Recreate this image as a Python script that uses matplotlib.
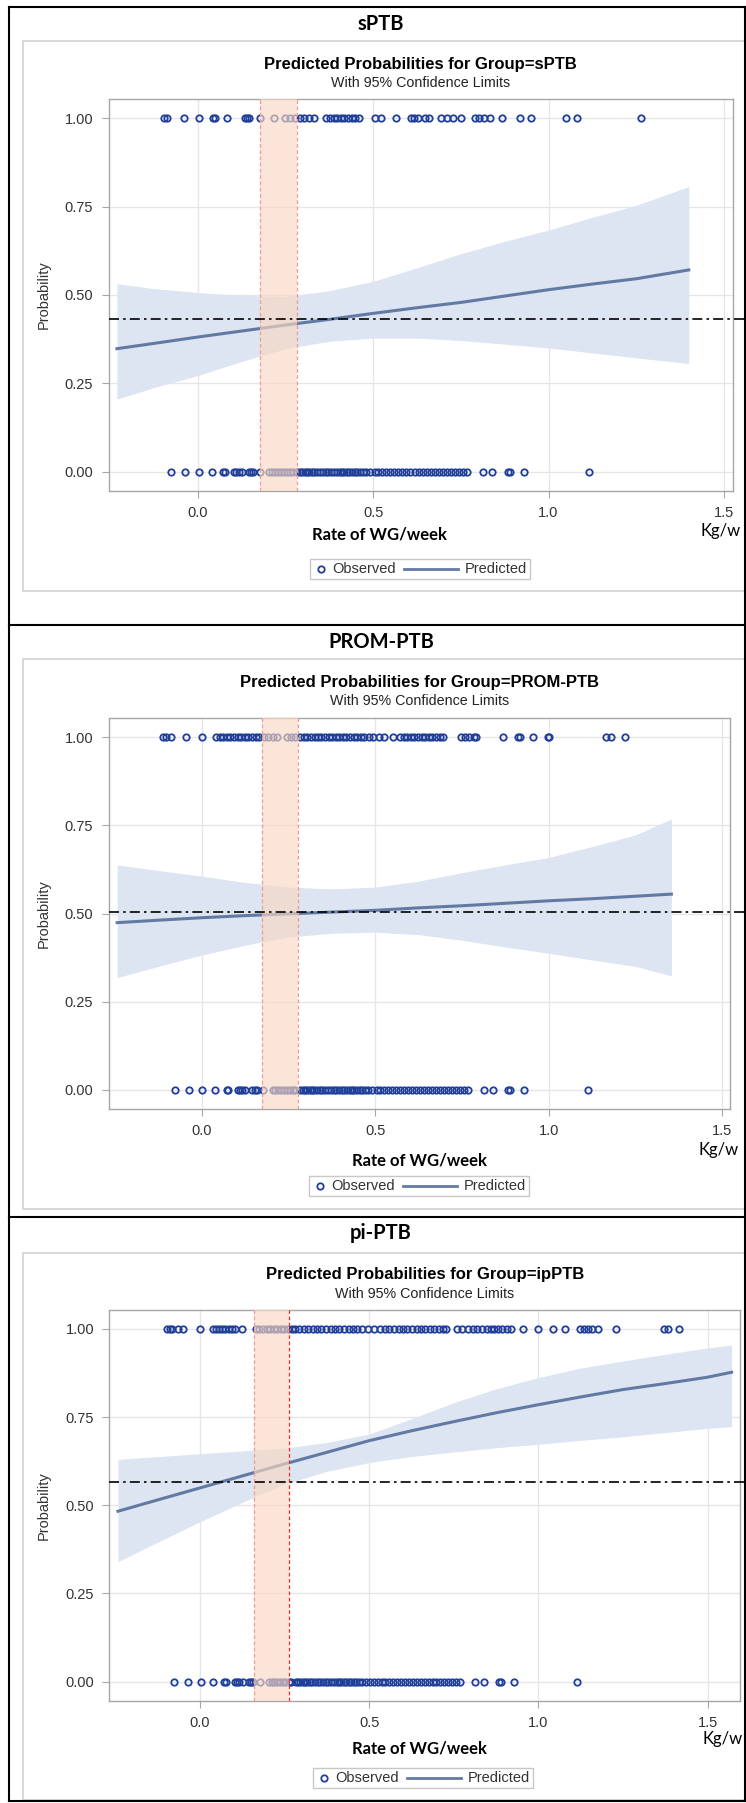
"""
Predicted probabilities (logistic fit) of PTB subtype vs. rate of weight gain per week.
Three stacked SAS-style panels: sPTB, PROM-PTB, pi-PTB.
"""

import matplotlib
matplotlib.use("Agg")
import matplotlib.pyplot as plt
from matplotlib.lines import Line2D
from matplotlib.patches import Rectangle

W, H = 746, 1803

# ---------------- data ----------------
# observed rate of WG/week for subjects with outcome = 0 (same control group in every panel)
obs0_x = [-0.077, -0.036, 0.002, 0.039, 0.072, 0.076, 0.104, 0.110, 0.117, 0.126, 0.146,
          0.152, 0.158, 0.177, 0.204, 0.212, 0.220, 0.228, 0.236, 0.245, 0.253, 0.262,
          0.270, 0.284, 0.291, 0.297, 0.304, 0.311, 0.318, 0.324, 0.332, 0.340, 0.348,
          0.356, 0.365, 0.372, 0.380, 0.388, 0.396, 0.404, 0.410, 0.418, 0.426, 0.432,
          0.440, 0.448, 0.455, 0.462, 0.470, 0.480, 0.492, 0.504, 0.515, 0.525, 0.537,
          0.548, 0.560, 0.571, 0.582, 0.594, 0.606, 0.618, 0.630, 0.641, 0.652, 0.664,
          0.676, 0.688, 0.699, 0.710, 0.721, 0.733, 0.745, 0.756, 0.768, 0.813, 0.840,
          0.884, 0.890, 0.929, 1.115]

# observed rate of WG/week for subjects with outcome = 1
sptb_obs1_x = [-0.097, -0.087, -0.041, 0.002, 0.044, 0.048, 0.082, 0.133, 0.140, 0.146,
               0.177, 0.217, 0.248, 0.262, 0.276, 0.291, 0.303, 0.316, 0.332, 0.364, 0.378,
               0.388, 0.398, 0.408, 0.418, 0.429, 0.439, 0.449, 0.459, 0.505, 0.523, 0.566,
               0.607, 0.617, 0.628, 0.648, 0.658, 0.694, 0.709, 0.728, 0.750, 0.791, 0.801,
               0.816, 0.832, 0.867, 0.918, 0.949, 1.051, 1.082, 1.265]

prom_obs1_x = [-0.113, -0.103, -0.088, -0.046, 0.000, 0.041, 0.052, 0.062, 0.072, 0.082,
               0.093, 0.103, 0.113, 0.124, 0.134, 0.144, 0.155, 0.165, 0.180, 0.191, 0.206,
               0.216, 0.247, 0.258, 0.268, 0.283, 0.294, 0.304, 0.314, 0.325, 0.335, 0.345,
               0.356, 0.366, 0.376, 0.386, 0.397, 0.407, 0.417, 0.428, 0.438, 0.448, 0.459,
               0.469, 0.481, 0.495, 0.510, 0.526, 0.552, 0.572, 0.582, 0.593, 0.603, 0.613,
               0.623, 0.634, 0.644, 0.655, 0.665, 0.675, 0.687, 0.696, 0.747, 0.758, 0.770,
               0.784, 0.791, 0.869, 0.912, 0.918, 0.956, 0.997, 1.000, 1.165, 1.180, 1.219]

pi_obs1_x = [-0.097, -0.089, -0.081, -0.066, -0.050, 0.000, 0.040, 0.049, 0.057, 0.066,
             0.074, 0.085, 0.095, 0.104, 0.125, 0.165, 0.175, 0.186, 0.197, 0.207, 0.218,
             0.228, 0.239, 0.249, 0.260, 0.271, 0.281, 0.294, 0.307, 0.320, 0.334, 0.347,
             0.359, 0.373, 0.387, 0.400, 0.412, 0.426, 0.440, 0.452, 0.465, 0.479, 0.497,
             0.516, 0.532, 0.548, 0.560, 0.574, 0.587, 0.600, 0.613, 0.627, 0.641, 0.653,
             0.666, 0.680, 0.693, 0.706, 0.719, 0.727, 0.761, 0.775, 0.791, 0.807, 0.820,
             0.835, 0.849, 0.859, 0.870, 0.881, 0.894, 0.907, 0.920, 0.955, 1.000, 1.044,
             1.078, 1.124, 1.134, 1.147, 1.158, 1.177, 1.229, 1.372, 1.382, 1.417]

# predicted probability with 95% confidence limits
sptb_fit_x = [-0.231, -0.125, 0.0, 0.125, 0.25, 0.375, 0.5, 0.625, 0.75, 0.875, 1.0, 1.125, 1.25, 1.40]
sptb_pred = [0.348, 0.363, 0.381, 0.398, 0.415, 0.431, 0.448, 0.464, 0.479, 0.497, 0.515, 0.531, 0.546, 0.571]
sptb_upper = [0.532, 0.518, 0.507, 0.499, 0.496, 0.512, 0.539, 0.577, 0.617, 0.652, 0.684, 0.720, 0.754, 0.807]
sptb_lower = [0.205, 0.238, 0.272, 0.312, 0.348, 0.369, 0.378, 0.378, 0.371, 0.361, 0.350, 0.336, 0.322, 0.306]

prom_fit_x = [-0.244, -0.125, 0.0, 0.125, 0.25, 0.375, 0.5, 0.625, 0.75, 0.875, 1.0, 1.125, 1.25, 1.354]
prom_pred = [0.474, 0.481, 0.488, 0.494, 0.499, 0.504, 0.509, 0.516, 0.522, 0.529, 0.536, 0.542, 0.549, 0.555]
prom_upper = [0.638, 0.622, 0.606, 0.588, 0.575, 0.570, 0.575, 0.592, 0.616, 0.638, 0.659, 0.690, 0.723, 0.768]
prom_lower = [0.318, 0.350, 0.382, 0.410, 0.433, 0.444, 0.447, 0.440, 0.424, 0.405, 0.387, 0.368, 0.350, 0.323]

pi_fit_x = [-0.242, -0.125, 0.0, 0.125, 0.25, 0.375, 0.5, 0.625, 0.75, 0.875, 1.0, 1.125, 1.25, 1.375, 1.5, 1.571]
pi_pred = [0.483, 0.515, 0.549, 0.583, 0.617, 0.650, 0.683, 0.711, 0.737, 0.762, 0.785, 0.807, 0.828, 0.845, 0.863, 0.877]
pi_upper = [0.630, 0.638, 0.646, 0.654, 0.662, 0.678, 0.702, 0.745, 0.791, 0.830, 0.862, 0.889, 0.909, 0.928, 0.946, 0.954]
pi_lower = [0.340, 0.395, 0.453, 0.508, 0.560, 0.596, 0.621, 0.638, 0.651, 0.663, 0.673, 0.684, 0.694, 0.706, 0.718, 0.723]

# overall prevalence line and optimal-gain window per group
baselines = [0.431, 0.504, 0.567]
windows = [(0.176, 0.282), (0.173, 0.278), (0.160, 0.262)]

panel_titles = ["sPTB", "PROM-PTB", "pi-PTB"]
group_names = ["sPTB", "PROM-PTB", "ipPTB"]
x_ticks = [0.0, 0.5, 1.0, 1.5]
x_ticklabels = ["0.0", "0.5", "1.0", "1.5"]
y_ticks = [0.0, 0.25, 0.5, 0.75, 1.0]
y_ticklabels = ["0.00", "0.25", "0.50", "0.75", "1.00"]

# ---------------- style ----------------
SAS_FONT = ["Liberation Sans", "DejaVu Sans"]
HEAD_FONT = ["Lato", "DejaVu Sans"]
OBS_BLUE = "#203f98"
PRED_COLOR = "#627aa3"
CI_COLOR = "#dce5f1"
WIN_COLOR = "#f9d8c3"
GRID_COLOR = "#e6e6e6"


def fx(x):
    return x / W


def fy(y):
    return 1 - y / H


def draw_legend(fig, left, yc):
    fig.add_artist(Rectangle((fx(left), fy(yc + 10)), 220 / W, 20 / H, transform=fig.transFigure,
                             fill=False, ec="#c8c8c8", lw=1))
    fig.add_artist(Line2D([fx(left + 11)], [fy(yc)], marker="o", mfc="none", mec=OBS_BLUE,
                          ms=4.6, mew=1.3, transform=fig.transFigure))
    fig.text(fx(left + 22), fy(yc), "Observed", ha="left", va="center", fontsize=10.5,
             family=SAS_FONT, color="#333333")
    fig.add_artist(Line2D([fx(left + 94), fx(left + 148)], [fy(yc), fy(yc)], color=PRED_COLOR,
                          lw=2, transform=fig.transFigure))
    fig.text(fx(left + 155), fy(yc), "Predicted", ha="left", va="center", fontsize=10.5,
             family=SAS_FONT, color="#333333")


def draw_panel(fig, p):
    # light grey SAS graph frame
    top0, bot0 = p["frame"]
    fig.add_artist(Rectangle((fx(23), fy(bot0)), (W - 22) / W, (bot0 - top0) / H,
                             transform=fig.transFigure, fill=False, ec="#d6d6d6", lw=1.3))

    fig.text(fx(381), fy(p["head_y"]), p["head"], ha="center", va="center",
             fontsize=14.5, fontweight="bold", family=HEAD_FONT)

    left, right, top, bottom = p["box"]
    ax = fig.add_axes([fx(left), fy(bottom), (right - left) / W, (bottom - top) / H])

    ax.fill_between(p["fit_x"], p["lower"], p["upper"], color=CI_COLOR, lw=0, zorder=2)
    ax.plot(p["fit_x"], p["pred"], color=PRED_COLOR, lw=2.2, zorder=3)
    ax.plot(p["obs1"], [1.0] * len(p["obs1"]), "o", mfc="none", mec=OBS_BLUE, ms=4.6, mew=1.3, zorder=4)
    ax.plot(obs0_x, [0.0] * len(obs0_x), "o", mfc="none", mec=OBS_BLUE, ms=4.6, mew=1.3, zorder=4)

    w0, w1 = p["window"]
    ax.axvspan(w0, w1, color=WIN_COLOR, alpha=0.65, lw=0, zorder=5)
    ax.axvline(w0, color="#f29a94", ls=(0, (3, 2)), lw=0.9, zorder=6)
    ax.axvline(w1, color=p["edge"], ls=(0, (3, 2)), lw=0.9, zorder=6)

    ax.axhline(p["base"], xmin=0, xmax=1.1, clip_on=False, color="black", lw=1.2,
               ls=(0, (6, 2.5, 1.5, 2.5)), zorder=7)

    ax.set_xlim(*p["xlim"])
    ax.set_ylim(-0.055, 1.055)
    ax.set_xticks(x_ticks)
    ax.set_xticklabels(x_ticklabels)
    ax.set_yticks(y_ticks)
    ax.set_yticklabels(y_ticklabels)
    ax.grid(True, color=GRID_COLOR, lw=1, zorder=0)
    ax.set_axisbelow(True)
    for s in ax.spines.values():
        s.set_color("#a6a6a6")
        s.set_linewidth(1)
    ax.tick_params(length=5, color="#a6a6a6", labelsize=10.5, labelcolor="#333333", pad=6)
    for lab in ax.get_xticklabels() + ax.get_yticklabels():
        lab.set_family(SAS_FONT)

    # titles and axis labels
    cx = (left + right) / 2
    fig.text(fx(cx), fy(p["title_y"]), "Predicted Probabilities for Group=" + p["group"],
             ha="center", va="center", fontsize=12, fontweight="bold", family=SAS_FONT)
    fig.text(fx(cx), fy(p["title_y"] + 19), "With 95% Confidence Limits",
             ha="center", va="center", fontsize=10.3, family=SAS_FONT, color="#222222")
    fig.text(fx(44), fy((top + bottom) / 2), "Probability", rotation=90, ha="center",
             va="center", fontsize=10.5, family=SAS_FONT, color="#333333")
    fig.text(fx(p["xlab_x"]), fy(p["xlab_y"]), "Rate of WG/week", ha="center", va="center",
             fontsize=12, fontweight="bold", family=HEAD_FONT)
    fig.text(fx(p["kg_x"]), fy(p["kg_y"]), "Kg/w", ha="right", va="center",
             fontsize=12, family=HEAD_FONT)

    draw_legend(fig, p["leg_x"], p["leg_y"])


panels = [
    dict(head=panel_titles[0], group=group_names[0], head_y=24, frame=(41.5, 591),
         box=(108.5, 733, 99, 491), xlim=(-0.255, 1.526), title_y=64,
         fit_x=sptb_fit_x, pred=sptb_pred, upper=sptb_upper, lower=sptb_lower, obs1=sptb_obs1_x,
         base=baselines[0], window=windows[0], edge="#f29a94",
         xlab_x=379, xlab_y=535, kg_x=741, kg_y=531, leg_x=310, leg_y=569),
    dict(head=panel_titles[1], group=group_names[1], head_y=642, frame=(659.5, 1209),
         box=(108.5, 730, 718, 1109), xlim=(-0.269, 1.523), title_y=682,
         fit_x=prom_fit_x, pred=prom_pred, upper=prom_upper, lower=prom_lower, obs1=prom_obs1_x,
         base=baselines[1], window=windows[1], edge="#f29a94",
         xlab_x=419, xlab_y=1160, kg_x=739, kg_y=1150, leg_x=309, leg_y=1186),
    dict(head=panel_titles[2], group=group_names[2], head_y=1233, frame=(1252.5, 1800),
         box=(109.5, 740, 1309.5, 1701), xlim=(-0.267, 1.596), title_y=1275,
         fit_x=pi_fit_x, pred=pi_pred, upper=pi_upper, lower=pi_lower, obs1=pi_obs1_x,
         base=baselines[2], window=windows[2], edge="#e8302a",
         xlab_x=419, xlab_y=1749, kg_x=743, kg_y=1739, leg_x=313, leg_y=1778),
]

fig = plt.figure(figsize=(W / 100, H / 100), dpi=100)
fig.patch.set_facecolor("white")

for p in panels:
    draw_panel(fig, p)

# black table lines around / between the panels
for (xa, ya, xb, yb) in [(8.5, 7, 745, 7), (8.5, 7, 8.5, 1801), (745, 7, 745, 1801),
                         (8.5, 625, 745, 625), (8.5, 1217, 745, 1217), (8.5, 1801, 745, 1801)]:
    fig.add_artist(Line2D([fx(xa), fx(xb)], [fy(ya), fy(yb)], color="black", lw=1.5,
                          transform=fig.transFigure))

fig.savefig("out.png", dpi=100, facecolor="white")
plt.close(fig)
